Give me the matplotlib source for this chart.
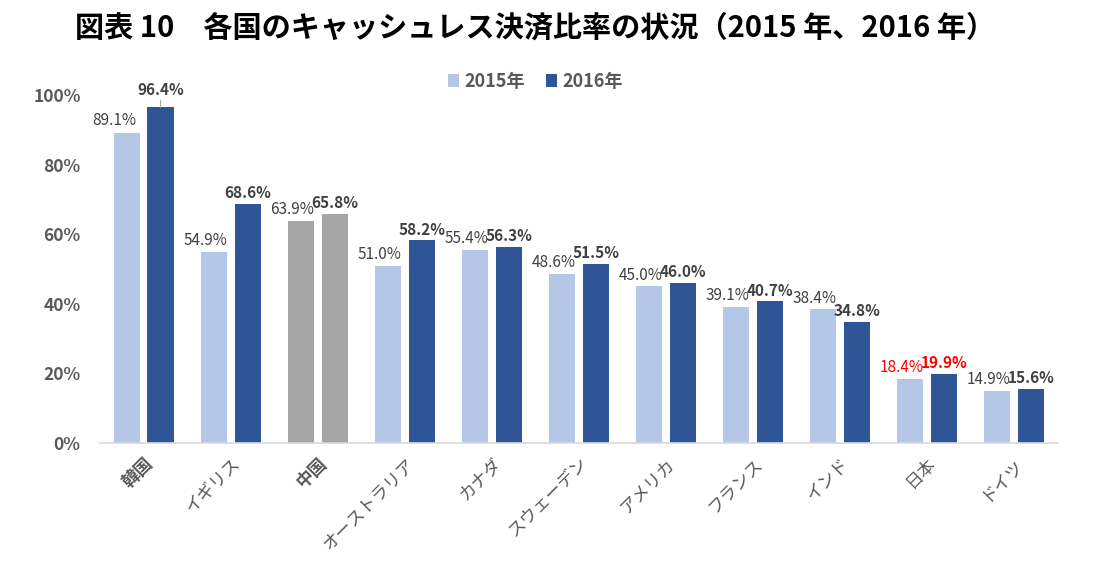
import numpy as np
import matplotlib
matplotlib.use("Agg")
from matplotlib import pyplot as plt

plt.rcParams['font.family'] = ['Noto Sans CJK JP', 'DejaVu Sans']

countries = ['韓国', 'イギリス', '中国', 'オーストラリア', 'カナダ', 'スウェーデン',
             'アメリカ', 'フランス', 'インド', '日本', 'ドイツ']
v2015 = [89.1, 54.9, 63.9, 51.0, 55.4, 48.6, 45.0, 39.1, 38.4, 18.4, 14.9]
v2016 = [96.4, 68.6, 65.8, 58.2, 56.3, 51.5, 46.0, 40.7, 34.8, 19.9, 15.6]
years = ['2015年', '2016年']

light = '#B4C7E7'
dark = '#2F5597'
grey = '#A5A5A5'
txt = '#595959'
lab_c = '#404040'

fig = plt.figure(figsize=(11.04, 5.72), dpi=100)
ax = fig.add_axes([0.0906, 0.2255, 0.8674, 0.6085])

x = np.arange(len(countries))
off = 0.195
w = 0.30
c15 = [grey if c == '中国' else light for c in countries]
c16 = [grey if c == '中国' else dark for c in countries]
b1 = ax.bar(x - off, v2015, w, color=c15, label=years[0])
b2 = ax.bar(x + off, v2016, w, color=c16, label=years[1])

for i, c in enumerate(countries):
    col = 'red' if c == '日本' else lab_c
    if i == 0:
        ax.annotate('%.1f%%' % v2015[i], (x[i] - off, v2015[i]), xytext=(-9, 3),
                    textcoords='offset points', ha='center', va='bottom',
                    fontsize=11, color=col)
        ax.annotate('%.1f%%' % v2016[i], (x[i] + off, v2016[i]), xytext=(0, 7),
                    textcoords='offset points', ha='center', va='bottom',
                    fontsize=11, fontweight='bold', color=col,
                    arrowprops=dict(arrowstyle='-', color='#A6A6A6', lw=0.8,
                                    shrinkA=0, shrinkB=0))
        continue
    ax.annotate('%.1f%%' % v2015[i], (x[i] - off, v2015[i]), xytext=(-6, 2),
                textcoords='offset points', ha='center', va='bottom',
                fontsize=11, color=col)
    ax.annotate('%.1f%%' % v2016[i], (x[i] + off, v2016[i]), xytext=(0, 2),
                textcoords='offset points', ha='center', va='bottom',
                fontsize=11, fontweight='bold', color=col)

ax.set_xlim(-0.5, len(countries) - 0.5)
ax.set_ylim(0, 100)
ax.set_yticks(np.arange(0, 101, 20))
ax.set_yticklabels(['%d%%' % t for t in range(0, 101, 20)],
                   fontsize=12.5, fontweight='bold', color=txt)
ax.set_xticks(x)
ax.set_xticklabels(countries, rotation=45, ha='right', rotation_mode='anchor',
                   fontsize=12.5, color=txt)
for lab in ax.get_xticklabels():
    if lab.get_text() in ('韓国', '中国'):
        lab.set_fontweight('bold')
ax.tick_params(axis='both', length=0)
ax.tick_params(axis='x', pad=8)
ax.tick_params(axis='y', pad=14)
for s in ['top', 'right', 'left']:
    ax.spines[s].set_visible(False)
ax.spines['bottom'].set_color('#D9D9D9')
ax.spines['bottom'].set_linewidth(1.2)

leg = fig.legend(handles=[b1[1], b2[1]], labels=years, loc='center',
                 bbox_to_anchor=(0.485, 0.858), ncol=2, frameon=False,
                 handlelength=0.6, handleheight=0.8, handletextpad=0.3,
                 columnspacing=1.2, prop={'size': 13, 'weight': 'bold'})
for t in leg.get_texts():
    t.set_color(txt)

fig.text(0.485, 0.952, '図表 10　各国のキャッシュレス決済比率の状況（2015 年、2016 年）',
         ha='center', va='center', fontsize=21, fontweight='bold', color='black')

fig.savefig('out.png', dpi=100)
